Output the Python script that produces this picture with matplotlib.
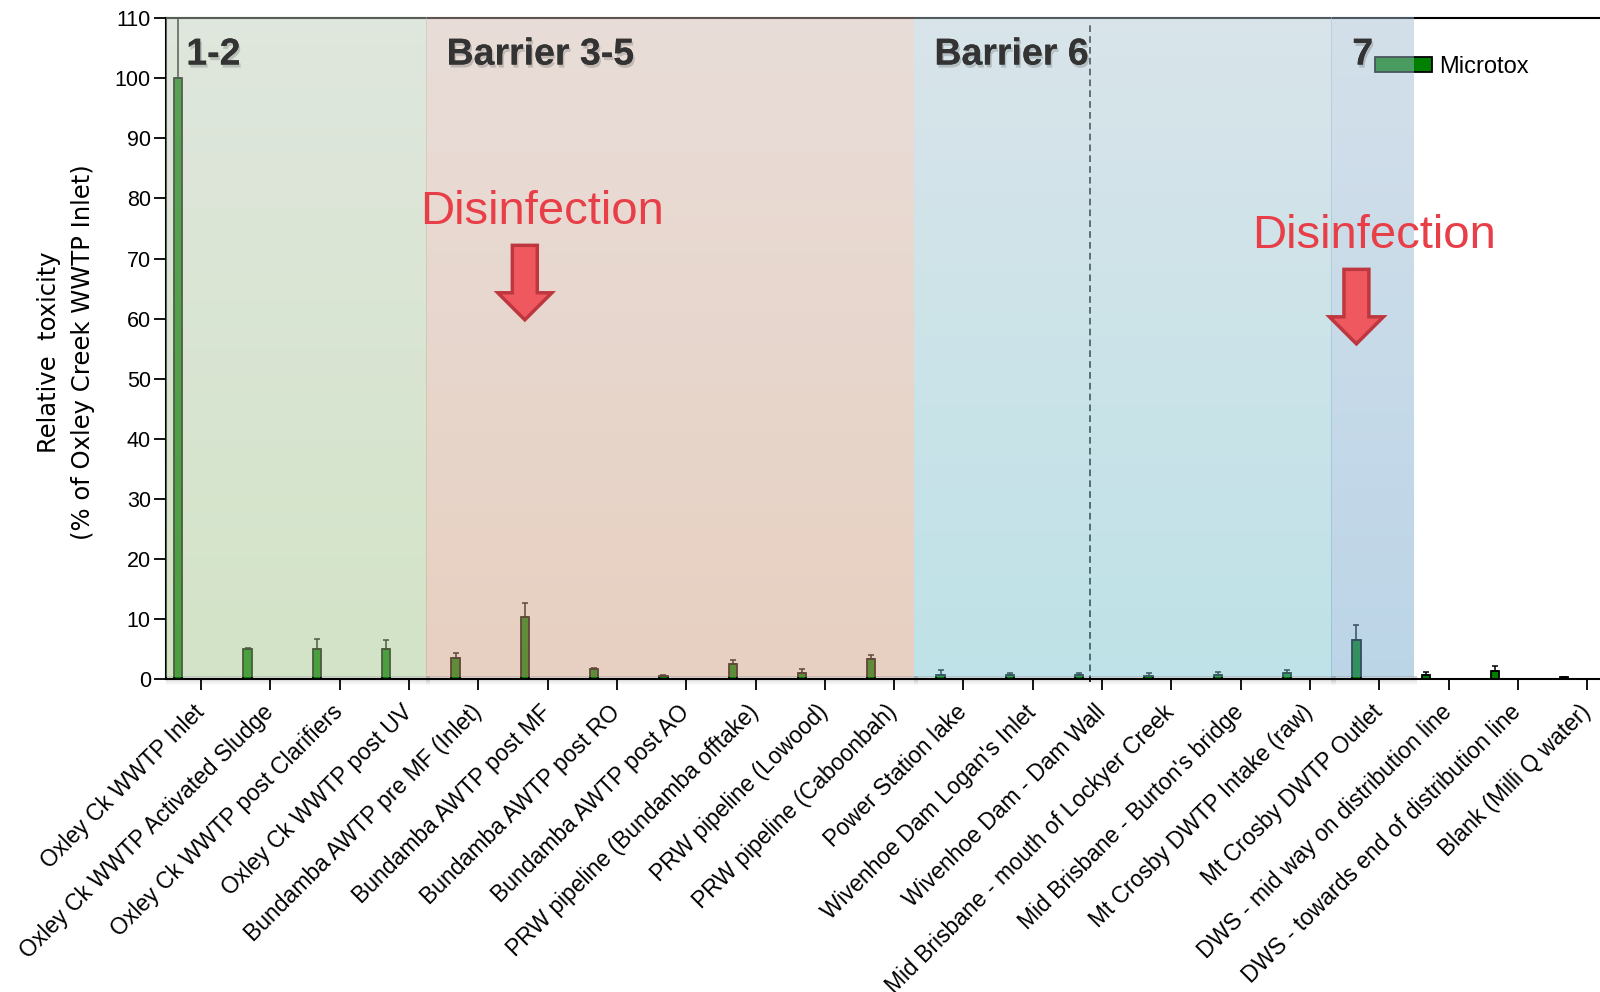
import numpy as np
import matplotlib
matplotlib.use("Agg")
import matplotlib.pyplot as plt
from matplotlib.patches import Patch, Polygon
from matplotlib.transforms import ScaledTranslation
import matplotlib.patheffects as pe

plt.rcParams['font.family'] = ['Liberation Sans', 'DejaVu Sans']

# ---- data ---------------------------------------------------------------
sites = [
    "Oxley Ck WWTP Inlet",
    "Oxley Ck WWTP Activated Sludge",
    "Oxley Ck WWTP post Clarifiers",
    "Oxley Ck WWTP post UV",
    "Bundamba AWTP pre MF (Inlet)",
    "Bundamba AWTP post MF",
    "Bundamba AWTP post RO",
    "Bundamba AWTP post AO",
    "PRW pipeline (Bundamba offtake)",
    "PRW pipeline (Lowood)",
    "PRW pipeline (Caboonbah)",
    "Power Station lake",
    "Wivenhoe Dam Logan's Inlet",
    "Wivenhoe Dam - Dam Wall",
    "Mid Brisbane - mouth of Lockyer Creek",
    "Mid Brisbane - Burton's bridge",
    "Mt Crosby DWTP Intake (raw)",
    "Mt Crosby DWTP Outlet",
    "DWS - mid way on distribution line",
    "DWS - towards end of distribution line",
    "Blank (Milli Q water)",
]
microtox = [100.0, 5.0, 5.0, 5.0, 3.55, 10.4, 1.6, 0.45, 2.5, 1.05, 3.3,
            0.65, 0.65, 0.6, 0.55, 0.7, 1.0, 6.55, 0.7, 1.4, 0.3]
microtox_err = [15.0, 0.2, 1.7, 1.5, 0.85, 2.3, 0.3, 0.25, 0.6, 0.6, 0.7,
                0.9, 0.4, 0.45, 0.5, 0.5, 0.45, 2.5, 0.5, 0.7, 0.05]

barrier_names = ["1-2", "Barrier 3-5", "Barrier 6", "7"]
barrier_edges = [-0.515, 3.24, 10.28, 16.31, 17.5]
# (top colour, bottom colour) of each shaded barrier zone
barrier_colors = [
    ((188, 203, 184), (160, 197, 135)),
    ((207, 182, 173), (204, 155, 122)),
    ((173, 199, 209), (117, 193, 205)),
    ((161, 189, 209), (111, 165, 205)),
]
disinfection_sites = [5, 17]
yticks = list(range(0, 111, 10))

# ---- figure -------------------------------------------------------------
fig = plt.figure(figsize=(16, 9.92), dpi=100)
ax = fig.add_axes([165.5 / 1600, 1 - 679 / 992, 1 - 165.5 / 1600, (679 - 18.3) / 992])

x = np.arange(len(sites))
bar_x = x - 0.33
ax.bar(bar_x, microtox, width=0.12, color=(0, 0.5, 0), edgecolor='black',
       linewidth=1.3, zorder=2)
ax.errorbar(bar_x, microtox, yerr=[np.zeros(len(sites)), microtox_err],
            fmt='none', ecolor='black', elinewidth=1.1, capsize=2.5,
            capthick=1.1, zorder=2)

# dashed separator inside the Barrier 6 zone
ax.plot([12.83, 12.83], [-0.5, 109.3], color='black', lw=1.2,
        dashes=(4, 2.5), zorder=2, clip_on=False)

# shaded barrier zones with a vertical colour gradient
n = 64
t = np.linspace(0, 1, n)[:, None]
for (x0, x1), (top, bot) in zip(zip(barrier_edges[:-1], barrier_edges[1:]), barrier_colors):
    top = np.array(top) / 255
    bot = np.array(bot) / 255
    rgb = bot[None, :] * (1 - t) + top[None, :] * t
    img = np.concatenate([rgb, np.full((n, 1), 0.47)], axis=1)[:, None, :]
    ax.imshow(img, extent=[x0, x1, 0.3, 110.15], origin='lower', aspect='auto',
              interpolation='bilinear', zorder=4, clip_on=False)
    # soft shadow under each zone
    sh = np.zeros((16, 1, 4))
    sh[:, 0, 3] = np.linspace(0.0, 0.18, 16)
    ax.imshow(sh, extent=[x0, x1 + 0.05, -1.2, 0.3], origin='lower',
              aspect='auto', interpolation='bilinear', zorder=1.5, clip_on=False)

for name, x0 in zip(barrier_names, barrier_edges[:-1]):
    ax.text(x0 + 0.3, 102.3, name, fontsize=27, fontweight='bold', color='#333333',
            ha='left', va='baseline', zorder=6,
            path_effects=[pe.withSimplePatchShadow(offset=(1.2, -2.2),
                                                   shadow_rgbFace='black', alpha=0.16),
                          pe.Normal()])

# disinfection markers
arrow_geom = [(72.2, 64.3, 59.8), (68.2, 60.3, 55.8)]
text_y = [77.8, 73.8]
for idx, (ytop, yhead, ytip), ty in zip(disinfection_sites, arrow_geom, text_y):
    cx = idx - 0.33
    hw, hh = 0.18, 0.39
    pts = [(cx - hw, ytop), (cx + hw, ytop), (cx + hw, yhead), (cx + hh, yhead),
           (cx, ytip), (cx - hh, yhead), (cx - hw, yhead)]
    ax.add_patch(Polygon(pts, closed=True, facecolor=(240 / 255, 88 / 255, 96 / 255),
                         edgecolor=(190 / 255, 55 / 255, 62 / 255), linewidth=2.5,
                         joinstyle='miter', zorder=6))
    ax.text(cx + 0.25, ty, "Disinfection", fontsize=34, color=(232 / 255, 62 / 255, 72 / 255),
            ha='center', va='center', zorder=6)

# axes styling
ax.set_xlim(-0.515, 20.185)
ax.set_ylim(0, 110)
ax.spines['right'].set_visible(False)
for s in ('left', 'bottom', 'top'):
    ax.spines[s].set_linewidth(1.5)
    ax.spines[s].set_color('black')

ax.set_yticks(yticks)
ax.set_yticklabels([str(v) for v in yticks], fontsize=15.5)
ax.tick_params(axis='y', direction='out', length=8.6, width=1.3, pad=2)
ax.set_xticks(x)
ax.set_xticklabels(sites, fontsize=16.5, rotation=45, ha='right',
                   rotation_mode='anchor')
ax.tick_params(axis='x', direction='out', length=8, width=1.3, pad=9)
shift = ScaledTranslation(-0.085, 0.02, fig.dpi_scale_trans)
for lbl in ax.get_xticklabels():
    lbl.set_transform(lbl.get_transform() + shift)

ax.set_ylabel("Relative  toxicity\n(% of Oxley Creek WWTP Inlet)", fontsize=17.5,
              family='DejaVu Sans', linespacing=1.5, va='center', ha='center')
ax.yaxis.set_label_coords((66 - 165.5) / 1434.5, 0.495)

leg = ax.legend(handles=[Patch(facecolor=(0, 0.5, 0), edgecolor='black', linewidth=1.3)],
                labels=["Microtox"], loc='center left',
                bbox_to_anchor=(1375 / 1600, 1 - 67 / 992), bbox_transform=fig.transFigure,
                frameon=False, fontsize=17, handlelength=2.4, handleheight=0.6,
                handletextpad=0.3, borderpad=0, borderaxespad=0)
leg.set_zorder(2.5)

fig.savefig("out.png", dpi=100)
